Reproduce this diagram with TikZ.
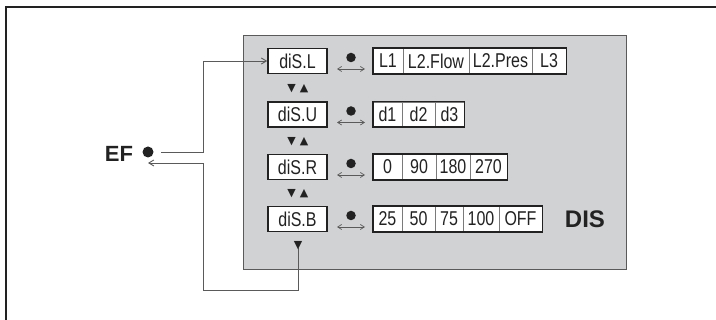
\documentclass[tikz,border=0pt]{standalone}
\usepackage{fontspec}
\setmainfont{Liberation Sans}
\newfontfamily\cond[FakeStretch=0.8]{Liberation Sans}
\newfontfamily\djv{DejaVu Sans}
\usetikzlibrary{arrows.meta,fit}
\definecolor{panel}{HTML}{D1D2D4}
\definecolor{linegray}{HTML}{5A5A5A}
\definecolor{dark}{HTML}{222222}
\definecolor{sepgray}{HTML}{7A7A7A}
\tikzset{
  cell/.style={draw=sepgray, line width=0.6pt, fill=white, minimum height=25pt, inner sep=0pt,
    font=\cond\fontsize{20}{22}\selectfont, text=dark},
  mainbox/.style={draw=dark, line width=1.6pt, fill=white, minimum height=25pt, minimum width=59pt,
    inner sep=0pt, font=\cond\fontsize{20}{22}\selectfont, text=dark},
  outline/.style={draw=dark, line width=1.6pt, inner sep=0pt},
  tri/.style={inner sep=0pt, font=\djv\fontsize{11}{11}\selectfont, text=dark},
  dot/.style={circle, fill=dark, inner sep=0pt, minimum size=9.5pt},
  bigdot/.style={circle, fill=dark, inner sep=0pt, minimum size=11pt},
  conn/.style={draw=linegray, line width=0.9pt, arrows={-Straight Barb[length=5pt,width=6pt]}},
  dbl/.style={draw=linegray, line width=0.7pt, arrows={Straight Barb[length=4pt,width=5pt]-Straight Barb[length=4pt,width=5pt]}},
}
\begin{document}
\begin{tikzpicture}[x=1pt,y=-1pt]
\useasboundingbox (0,0) rectangle (716,320);
% outer frame (top and left edges visible)
\draw[dark, line width=2.4pt] (6,330) -- (6,7) -- (730,7);
% panel
\node[draw=linegray, line width=0.8pt, fill=panel, minimum width=383pt, minimum height=234pt, inner sep=0pt] (panel) at (434.5,152) {};
% main boxes
\node[mainbox] (disl) at (297.5,61) {diS.L};
\node[mainbox] (disu) at (297.5,114.5) {diS.U};
\node[mainbox] (disr) at (297.5,167) {diS.R};
\node[mainbox] (disb) at (297.5,219) {diS.B};
% arrows between
\node[tri] (d1) at (291.5,89) {▼}; \node[tri] (u1) at (304,89) {▲};
\node[tri] (d2) at (291.5,142) {▼}; \node[tri] (u2) at (304,142) {▲};
\node[tri] (d3) at (291.5,194) {▼}; \node[tri] (u3) at (304,194) {▲};
% bullets and double arrows
\foreach \n/\y in {a/61,b/114.5,c/167,e/219}{
  \node[dot] (dot\n) at (351,\y-3.5) {};
  \coordinate (al\n) at (337,\y+8);
  \coordinate (ar\n) at (365,\y+8);
  \draw[dbl] (al\n) -- (ar\n);
}
% row 1
\node[cell, minimum width=30pt] (r1a) at (388,61) {L1};
\node[cell, minimum width=66pt] (r1b) at (436,61) {L2.Flow};
\node[cell, minimum width=63pt] (r1c) at (500.5,61) {L2.Pres};
\node[cell, minimum width=34pt] (r1d) at (549,61) {L3};
\node[outline, fit=(r1a)(r1d)] (r1) {};
% row 2
\node[cell, minimum width=29pt] (r2a) at (387.5,114.5) {d1};
\node[cell, minimum width=33pt] (r2b) at (418.5,114.5) {d2};
\node[cell, minimum width=29pt] (r2c) at (449.5,114.5) {d3};
\node[outline, fit=(r2a)(r2c)] (r2) {};
% row 3
\node[cell, minimum width=29pt] (r3a) at (387.5,167) {0};
\node[cell, minimum width=34pt] (r3b) at (419,167) {90};
\node[cell, minimum width=34pt] (r3c) at (453,167) {180};
\node[cell, minimum width=37pt] (r3d) at (488.5,167) {270};
\node[outline, fit=(r3a)(r3d)] (r3) {};
% row 4
\node[cell, minimum width=29pt] (r4a) at (387.5,219) {25};
\node[cell, minimum width=33pt] (r4b) at (418.5,219) {50};
\node[cell, minimum width=28pt] (r4c) at (449,219) {75};
\node[cell, minimum width=36pt] (r4d) at (481,219) {100};
\node[cell, minimum width=43pt] (r4e) at (520.5,219) {OFF};
\node[outline, fit=(r4a)(r4e)] (r4) {};
% DIS label
\node[font=\bfseries\fontsize{24}{26}\selectfont, text=dark] (dis) at (585,219) {DIS};
% EF
\node[font=\bfseries\fontsize{22}{24}\selectfont, text=dark] (ef) at (119,154) {EF};
\node[bigdot] (efdot) at (148,152) {};
\coordinate (efout) at (161,152);
\coordinate (efin) at (148,163);
\coordinate (jx) at (203,0);
\coordinate (bot) at (0,290);
\coordinate (dstart) at (298,248);
% connectors
\draw[conn] (efout) -- (efout -| jx) |- (disl.west);
\draw[conn] (dstart) -- (dstart |- bot) -| (efin -| jx) -- (efin);
% bottom triangle
\node[tri] (dend) at (298,246) {▼};
\end{tikzpicture}
\end{document}
